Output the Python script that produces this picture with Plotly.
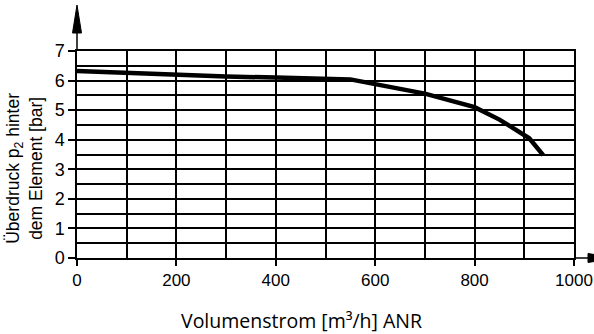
import plotly.graph_objects as go

# Flow rate [m³/h ANR] and downstream gauge pressure p2 [bar]
flow = [0, 100, 200, 300, 400, 500, 550, 600, 650, 700, 750, 800, 850, 880, 910, 938]
pressure = [6.32, 6.25, 6.19, 6.14, 6.10, 6.07, 6.04, 5.88, 5.72, 5.56, 5.33, 5.10,
            4.68, 4.38, 4.05, 3.48]

x_ticks = [0, 200, 400, 600, 800, 1000]
y_ticks = [0, 1, 2, 3, 4, 5, 6, 7]

SANS = "Arial"
grid = dict(showgrid=True, gridcolor="black", gridwidth=1.5)

fig = go.Figure()
fig.add_trace(go.Scatter(
    x=flow, y=pressure, mode="lines",
    line=dict(color="black", width=4.5),
    hoverinfo="skip", showlegend=False,
))

fig.update_xaxes(
    range=[0, 1000], tickvals=x_ticks, ticks="outside", ticklen=6, tickwidth=1.5,
    tickcolor="black", tickfont=dict(family=SANS, size=17, color="black"),
    showline=True, linecolor="black", linewidth=1.5, mirror=True, zeroline=False,
    automargin=False, ticklabeloverflow="allow",
    minor=dict(dtick=100, tick0=0, ticks="", **grid), **grid,
)
fig.update_yaxes(
    range=[0, 7], tickvals=y_ticks, ticks="outside", ticklen=7, tickwidth=1.5,
    tickcolor="black", tickfont=dict(family=SANS, size=18, color="black"),
    showline=True, linecolor="black", linewidth=1.5, mirror=True, zeroline=False,
    automargin=False,
    minor=dict(dtick=0.5, tick0=0, ticks="", **grid), **grid,
)

# Axis extensions with arrowheads (pixel-sized, anchored to the plot corners)
fig.add_shape(type="path", xref="paper", yref="paper", xsizemode="pixel",
              ysizemode="pixel", xanchor=0, yanchor=1, path="M0,0 L0,20",
              line=dict(color="black", width=1.5))
fig.add_shape(type="path", xref="paper", yref="paper", xsizemode="pixel",
              ysizemode="pixel", xanchor=0, yanchor=1,
              path="M-4.5,18 L4.5,18 L0,46 Z", fillcolor="black",
              line=dict(color="black", width=1))
fig.add_shape(type="path", xref="paper", yref="paper", xsizemode="pixel",
              ysizemode="pixel", xanchor=1, yanchor=0, path="M0,0 L16,0",
              line=dict(color="black", width=1.5))
fig.add_shape(type="path", xref="paper", yref="paper", xsizemode="pixel",
              ysizemode="pixel", xanchor=1, yanchor=0,
              path="M14,-4.5 L14,4.5 L42,0 Z", fillcolor="black",
              line=dict(color="black", width=1))

fig.add_annotation(
    text="Überdruck p<sub>2</sub> hinter<br>dem Element [bar]",
    xref="paper", yref="paper", x=-0.105, y=0.435, textangle=-90,
    showarrow=False, xanchor="center", yanchor="middle", align="center",
    font=dict(family=SANS, size=17.5, color="black"),
)
fig.add_annotation(
    text="Volumenstrom [m³/h] ANR",
    xref="paper", yref="paper", x=0.451, y=-0.3, showarrow=False,
    xanchor="center", yanchor="middle",
    font=dict(family="Open Sans", size=19.5, color="black"),
)

fig.update_layout(
    width=594, height=334,
    margin=dict(l=77, r=20, t=51, b=76),
    paper_bgcolor="white", plot_bgcolor="white",
    showlegend=False,
)

fig.write_html("out.html")
